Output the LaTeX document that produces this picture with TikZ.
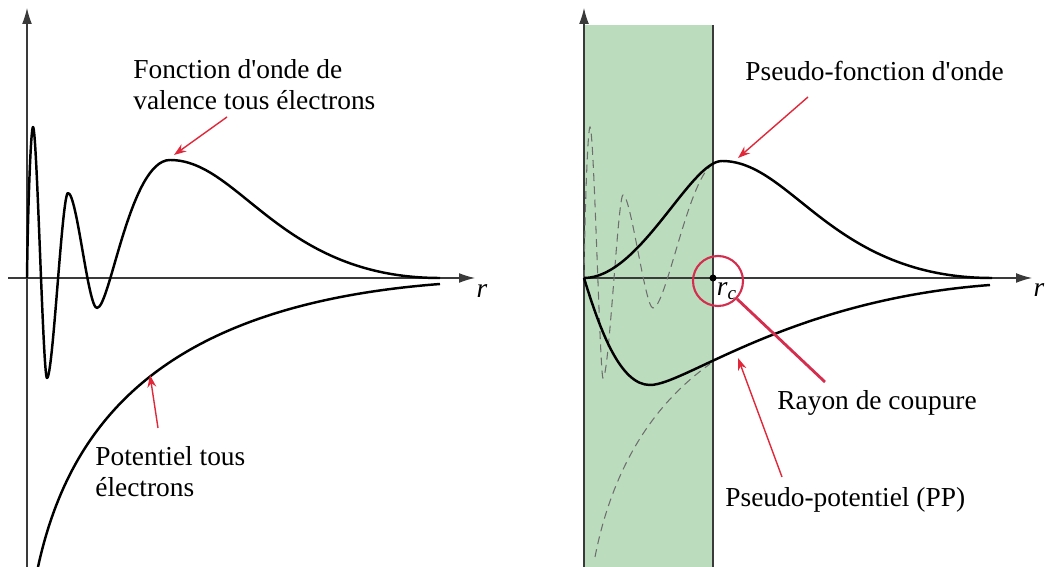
\documentclass[tikz,border=0pt]{standalone}
\usepackage{fontspec}
\setmainfont{Liberation Serif}
\usepackage{tikz}
\usetikzlibrary{
  arrows.meta,
  positioning,
  calc,
}
\definecolor{shadegreen}{HTML}{BCDCBE}
\definecolor{ptred}{HTML}{E0283A}
\definecolor{ringred}{HTML}{D42D4E}
\definecolor{axisgray}{HTML}{3A3A3A}
\definecolor{ghostgray}{HTML}{6E6E6E}

\begin{document}
\begin{tikzpicture}[
    x=0.02cm, y=-0.02cm,
    axis/.style={draw=axisgray, line width=0.6pt, -{Latex[length=9pt, width=5.5pt]}},
    wave/.style={line width=1.4pt, line join=round},
    aeghost/.style={draw=ghostgray, line width=0.6pt, dash pattern=on 4.5pt off 3pt},
    lbl/.style={inner sep=0pt, font=\fontsize{15.6}{18.2}\selectfont,
                align=left, anchor=base west},
    pointer/.style={draw=ptred, line width=0.8pt, -{Stealth[length=7pt, width=5pt]}},
  ]
  \useasboundingbox (0,0) rectangle (1046,567);

  % core region r < r_c
  \fill[shadegreen] (584,25) rectangle (713,567);
  \draw[axisgray, line width=0.6pt] (713,25) -- (713,567);

  % axes
  \draw[axis] (27,567) -- (27,8);
  \draw[axis] (8,278) -- (475,278);
  \draw[axis] (584,567) -- (584,8);
  \draw[axis] (584,278) -- (1032,278);
  \node[lbl, anchor=center] (rleft)  at (482,291) {\textit{r}};
  \node[lbl, anchor=center] (rright) at (1039,290) {\textit{r}};

  % all-electron functions
  \draw[wave] (27,278) .. controls (28,200) and (31,127) .. (33,127)
    .. controls (37,127) and (43,378) .. (47,378)
    .. controls (53,378) and (62,193) .. (68,193)
    .. controls (77,193) and (88,308) .. (97,308)
    .. controls (110,308) and (130,160) .. (170,160)
    .. controls (240,160) and (280,278) .. (440,278);
  \draw[wave] (38,567) .. controls (70,420) and (165,305) .. (440,284);

  % all-electron curves behind the pseudo ones
  \draw[aeghost] (584,278) .. controls (585,200) and (588,127) .. (590,127)
    .. controls (594,127) and (600,378) .. (603,378)
    .. controls (609,378) and (618,195) .. (623,195)
    .. controls (631,195) and (645,308) .. (653,308)
    .. controls (666,308) and (688,180) .. (712,165);
  \draw[aeghost] (595,557) .. controls (610,480) and (645,410) .. (710,364);

  % pseudo functions
  \draw[wave] (584,278) .. controls (640,278) and (690,161) .. (722,161)
    .. controls (792,161) and (832,278) .. (992,278);
  \draw[wave] (584,278) .. controls (600,330) and (620,385) .. (650,385)
    .. controls (685,385) and (790,300) .. (990,285);

  % cut-off radius
  \node[circle, fill=black, inner sep=0pt, minimum size=4pt] (rcdot) at (713,278) {};
  \node[lbl, anchor=center] (rcname) at (727,291) {\textit{r}\textsubscript{\textit{c}}};
  \node[circle, draw=ringred, line width=1.2pt, minimum size=1cm, inner sep=0pt]
    (rcring) at (718,281) {};

  % labels
  \node[lbl] (fwlbl)  at (133,110) {Fonction d\textquotesingle onde de\\valence tous électrons};
  \node[lbl] (potlbl) at (95,497)  {Potentiel tous\\électrons};
  \node[lbl] (pfwlbl) at (745,81)  {Pseudo-fonction d\textquotesingle onde};
  \node[lbl] (rclbl)  at (777,410) {Rayon de coupure};
  \node[lbl] (pplbl)  at (725,507) {Pseudo-potentiel (PP)};

  % pointers
  \coordinate (fwtail)  at (227,117);  \coordinate (fwtip)  at (174,155);
  \coordinate (pottail) at (158,428);  \coordinate (pottip) at (150,375);
  \coordinate (pfwtail) at (808,97);   \coordinate (pfwtip) at (738,158);
  \coordinate (pptail)  at (782,477);  \coordinate (pptip)  at (738,358);
  \coordinate (rctail)  at (825,382);

  \draw[pointer] (fwtail) -- (fwtip);
  \draw[pointer] (pottail) -- (pottip);
  \draw[pointer] (pfwtail) -- (pfwtip);
  \draw[pointer] (pptail) -- (pptip);
  \draw[ringred, line width=1.6pt] (rcring) -- (rctail);
\end{tikzpicture}
\end{document}
